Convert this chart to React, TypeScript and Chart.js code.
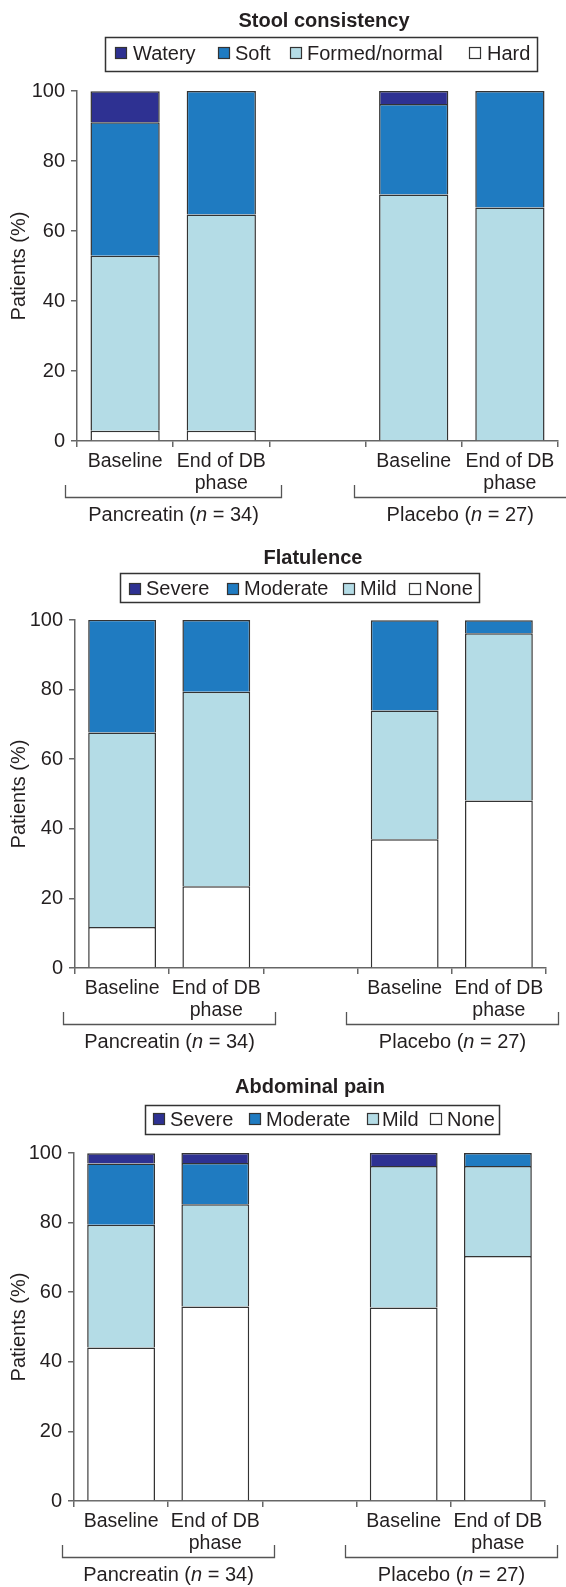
import React, { useEffect, useRef } from 'react';
import { Chart, registerables } from 'chart.js';

Chart.register(...registerables);

// ---------- DATA ----------
const categories = ['Baseline', ['End of DB', 'phase'], '', 'Baseline', ['End of DB', 'phase']];
const groupNames = ['Pancreatin', 'Placebo'];
const groupN = [34, 27];
const yAxisTitle = 'Patients (%)';

const stoolTitle = 'Stool consistency';
const stoolLegend = ['Watery', 'Soft', 'Formed/normal', 'Hard'];
const stoolHard = [2.9, 2.9, null, 0, 0];
const stoolFormed = [50.0, 61.8, null, 70.4, 66.7];
const stoolSoft = [38.2, 35.3, null, 25.9, 33.3];
const stoolWatery = [8.8, 0, null, 3.7, 0];

const flatTitle = 'Flatulence';
const severityLegend = ['Severe', 'Moderate', 'Mild', 'None'];
const flatNone = [11.8, 23.5, null, 37.0, 48.1];
const flatMild = [55.9, 55.9, null, 37.0, 48.1];
const flatModerate = [32.4, 20.6, null, 25.9, 3.7];
const flatSevere = [0, 0, null, 0, 0];

const painTitle = 'Abdominal pain';
const painNone = [44.1, 55.9, null, 55.6, 70.4];
const painMild = [35.3, 29.4, null, 40.7, 25.9];
const painModerate = [17.6, 11.8, null, 0, 3.7];
const painSevere = [2.9, 2.9, null, 3.7, 0];

// ---------- STYLE ----------
const NAVY = '#2E3192';
const BLUE = '#1F7BC1';
const LIGHT = '#B4DCE6';
const WHITE = '#FFFFFF';
const TEXT = '#231F20';
const EDGE = '#333333';
const AXIS = '#666666';
const FONT = '"Liberation Sans", Arial, Helvetica, sans-serif';
const W = 566;

type Spec = {
  title: string;
  legend: string[];
  colors: string[];
  series: (number | null)[][]; // bottom to top
  seriesColors: string[];
  seriesLabels: string[];
  top: number;
  height: number;
  area: { left: number; right: number; top: number; bottom: number };
  titleX: number;
  titleY: number;
  box: [number, number, number, number];
  sqX: number[];
  txX: number[];
  sqY: number;
  txY: number;
};

const specs: Spec[] = [
  {
    title: stoolTitle,
    legend: stoolLegend,
    colors: [NAVY, BLUE, LIGHT, WHITE],
    series: [stoolHard, stoolFormed, stoolSoft, stoolWatery],
    seriesColors: [WHITE, LIGHT, BLUE, NAVY],
    seriesLabels: ['Hard', 'Formed/normal', 'Soft', 'Watery'],
    top: 0,
    height: 530,
    area: { left: 77, right: 558, top: 91, bottom: 441 },
    titleX: 324,
    titleY: 27,
    box: [105, 37, 537, 71],
    sqX: [115, 218, 290, 469],
    txX: [133, 235, 307, 487],
    sqY: 53,
    txY: 60,
  },
  {
    title: flatTitle,
    legend: severityLegend,
    colors: [NAVY, BLUE, LIGHT, WHITE],
    series: [flatNone, flatMild, flatModerate, flatSevere],
    seriesColors: [WHITE, LIGHT, BLUE, NAVY],
    seriesLabels: ['None', 'Mild', 'Moderate', 'Severe'],
    top: 530,
    height: 527,
    area: { left: 75, right: 546, top: 90, bottom: 438 },
    titleX: 313,
    titleY: 34,
    box: [120, 43, 479, 72],
    sqX: [129, 227, 343, 409],
    txX: [146, 244, 360, 425],
    sqY: 59,
    txY: 65,
  },
  {
    title: painTitle,
    legend: severityLegend,
    colors: [NAVY, BLUE, LIGHT, WHITE],
    series: [painNone, painMild, painModerate, painSevere],
    seriesColors: [WHITE, LIGHT, BLUE, NAVY],
    seriesLabels: ['None', 'Mild', 'Moderate', 'Severe'],
    top: 1057,
    height: 530,
    area: { left: 74, right: 545, top: 96, bottom: 444 },
    titleX: 310,
    titleY: 36,
    box: [145, 48, 499, 77],
    sqX: [153, 249, 367, 430],
    txX: [170, 266, 382, 447],
    sqY: 62,
    txY: 69,
  },
];

function StackedChart({ spec }: { spec: Spec }) {
  const ref = useRef<HTMLCanvasElement | null>(null);

  useEffect(() => {
    const canvas = ref.current;
    if (!canvas) return;
    const yWidth = 60;
    const xHeight = spec.height - spec.area.bottom;

    const decor = {
      id: 'decor',
      afterDraw(chart: any) {
        const ctx = chart.ctx as CanvasRenderingContext2D;
        const area = chart.chartArea;
        ctx.save();
        // title
        ctx.fillStyle = TEXT;
        ctx.font = `bold 20px ${FONT}`;
        ctx.textAlign = 'center';
        ctx.textBaseline = 'alphabetic';
        ctx.fillText(spec.title, spec.titleX, spec.titleY);

        // legend box
        const [bx1, by1, bx2, by2] = spec.box;
        ctx.strokeStyle = EDGE;
        ctx.lineWidth = 1.5;
        ctx.strokeRect(bx1 + 0.5, by1 + 0.5, bx2 - bx1, by2 - by1);
        ctx.font = `20px ${FONT}`;
        ctx.textAlign = 'left';
        spec.legend.forEach((label, i) => {
          const sx = spec.sqX[i];
          const sy = spec.sqY - 6;
          ctx.fillStyle = spec.colors[i];
          ctx.fillRect(sx, sy, 12, 12);
          ctx.strokeStyle = EDGE;
          ctx.lineWidth = 1.2;
          ctx.strokeRect(sx + 0.5, sy + 0.5, 11, 11);
          ctx.fillStyle = TEXT;
          ctx.fillText(label, spec.txX[i], spec.txY);
        });

        // y-axis title
        ctx.save();
        ctx.translate(19, (area.top + area.bottom) / 2);
        ctx.rotate(-Math.PI / 2);
        ctx.textAlign = 'center';
        ctx.textBaseline = 'middle';
        ctx.font = `20px ${FONT}`;
        ctx.fillStyle = TEXT;
        ctx.fillText(yAxisTitle, 0, 0);
        ctx.restore();

        // group brackets
        const xs = chart.scales.x;
        const cw = (xs.right - xs.left) / categories.length;
        const groups = [
          [0, 1],
          [3, 4],
        ];
        const ext = 12;
        groups.forEach(([from, to], gi) => {
          const x1 = Math.round(xs.left + from * cw - ext) + 0.5;
          const x2 = Math.min(W + 2, Math.round(xs.left + (to + 1) * cw + ext) + 0.5);
          const yTop = area.bottom + 44;
          const yBot = Math.round(area.bottom + 56) + 0.5;
          ctx.strokeStyle = '#555';
          ctx.lineWidth = 1.3;
          ctx.beginPath();
          ctx.moveTo(x1, yTop);
          ctx.lineTo(x1, yBot);
          ctx.lineTo(x2, yBot);
          ctx.lineTo(x2, yTop);
          ctx.stroke();

          const cx = (x1 + Math.min(x2, W)) / 2;
          const pre = `${groupNames[gi]} (`;
          const it = 'n';
          const post = ` = ${groupN[gi]})`;
          const normal = `20px ${FONT}`;
          const italic = `italic 20px ${FONT}`;
          ctx.font = normal;
          const w1 = ctx.measureText(pre).width;
          const w3 = ctx.measureText(post).width;
          ctx.font = italic;
          const w2 = ctx.measureText(it).width;
          let x = cx - (w1 + w2 + w3) / 2;
          const ty = yBot + 18;
          ctx.textAlign = 'left';
          ctx.textBaseline = 'middle';
          ctx.fillStyle = TEXT;
          ctx.font = normal;
          ctx.fillText(pre, x, ty);
          x += w1;
          ctx.font = italic;
          ctx.fillText(it, x, ty);
          x += w2;
          ctx.font = normal;
          ctx.fillText(post, x, ty);
        });
        ctx.restore();
      },
    };

    const chart = new Chart(canvas, {
      type: 'bar',
      data: {
        labels: categories as any,
        datasets: spec.series.map((data, i) => ({
          label: spec.seriesLabels[i],
          data: data as any,
          backgroundColor: spec.seriesColors[i],
          borderColor: EDGE,
          borderWidth: 1.5,
          borderSkipped: 'start' as const,
          barPercentage: 0.72,
          categoryPercentage: 1,
        })),
      },
      options: {
        animation: false,
        responsive: false,
        maintainAspectRatio: false,
        devicePixelRatio: 1,
        layout: {
          padding: {
            top: spec.area.top,
            left: spec.area.left - yWidth,
            right: W - spec.area.right,
            bottom: 0,
          },
        },
        plugins: {
          legend: { display: false },
          title: { display: false },
          tooltip: { enabled: false },
        },
        scales: {
          x: {
            stacked: true,
            offset: true,
            grid: {
              display: true,
              offset: true,
              drawOnChartArea: false,
              drawTicks: true,
              tickLength: 6,
              color: AXIS,
              lineWidth: 1.5,
            },
            border: { display: true, color: AXIS, width: 1.5 },
            ticks: {
              color: TEXT,
              font: { family: FONT, size: 19.5, lineHeight: 1.13 },
              padding: 4,
              maxRotation: 0,
              minRotation: 0,
              autoSkip: false,
            },
            afterFit(scale: any) {
              scale.height = xHeight;
              scale.paddingLeft = 0;
              scale.paddingRight = 0;
            },
          },
          y: {
            stacked: true,
            min: 0,
            max: 100,
            ticks: {
              stepSize: 20,
              color: TEXT,
              font: { family: FONT, size: 20 },
              padding: 6,
            },
            grid: {
              display: true,
              drawOnChartArea: false,
              drawTicks: true,
              tickLength: 6,
              color: AXIS,
              lineWidth: 1.5,
            },
            border: { display: true, color: AXIS, width: 1.5 },
            afterFit(scale: any) {
              scale.width = yWidth;
            },
          },
        },
      },
      plugins: [decor],
    });

    return () => chart.destroy();
  }, [spec]);

  return (
    <canvas
      ref={ref}
      width={W}
      height={spec.height}
      style={{ position: 'absolute', left: 0, top: spec.top, width: W, height: spec.height, display: 'block' }}
    />
  );
}

export default function App() {
  return (
    <div style={{ position: 'absolute', left: 0, top: 0, width: W, height: 1587, background: '#fff', overflow: 'hidden' }}>
      {specs.map((s, i) => (
        <StackedChart key={i} spec={s} />
      ))}
    </div>
  );
}
